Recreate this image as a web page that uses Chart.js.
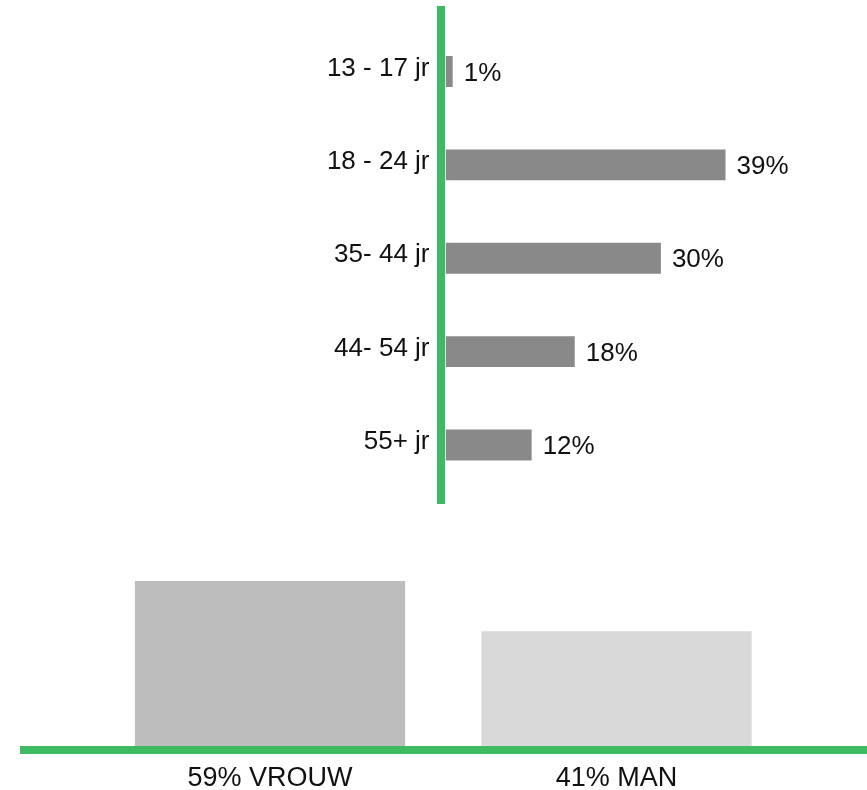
<!DOCTYPE html>
<html>
<head>
<meta charset="utf-8">
<script src="https://cdn.jsdelivr.net/npm/chart.js@4.4.1/dist/chart.umd.min.js"></script>
<style>
  html, body { margin: 0; padding: 0; background: #fff; }
  #wrap { position: relative; width: 867px; height: 790px; overflow: hidden; }
  #ageChart { position: absolute; left: 0; top: 0; }
  #genderChart { position: absolute; left: 0; top: 520px; }
</style>
</head>
<body>
<div id="wrap">
  <canvas id="ageChart" width="867" height="520"></canvas>
  <canvas id="genderChart" width="867" height="270"></canvas>
</div>
<script>
var ageGroups = ['13 - 17 jr', '18 - 24 jr', '35- 44 jr', '44- 54 jr', '55+ jr'];
var ageShares = [1, 39, 30, 18, 12];

var genderNames = ['VROUW', 'MAN'];
var genderShares = [59, 41];

var green = '#3dba62';
var fontFam = '"Liberation Sans", Arial, sans-serif';

// vertical green axis + category names + value labels for the age chart
var agePainter = {
  id: 'agePainter',
  afterDatasetsDraw: function(chart){
    var ctx = chart.ctx;
    var xs = chart.scales.x, ys = chart.scales.y;
    var x0 = xs.getPixelForValue(0);

    ctx.save();
    ctx.fillStyle = green;
    ctx.fillRect(x0 - 8.5, 6, 8, 498);

    ctx.font = '26px ' + fontFam;
    ctx.fillStyle = '#111';
    ctx.textBaseline = 'middle';
    for(var i = 0; i < ageGroups.length; i++){
      var y = ys.getPixelForValue(i);
      ctx.textAlign = 'right';
      ctx.fillText(ageGroups[i], x0 - 16, y - 3);
      ctx.textAlign = 'left';
      ctx.fillText(ageShares[i] + '%', xs.getPixelForValue(ageShares[i]) + 11, y + 2);
    }
    ctx.restore();
  }
};

// horizontal green baseline + labels under the gender bars
var genderPainter = {
  id: 'genderPainter',
  afterDatasetsDraw: function(chart){
    var ctx = chart.ctx;
    var xs = chart.scales.x, ys = chart.scales.y;
    var yBase = ys.getPixelForValue(0);

    ctx.save();
    ctx.fillStyle = green;
    ctx.fillRect(20, yBase, chart.width - 20, 8);

    ctx.font = '27px ' + fontFam;
    ctx.fillStyle = '#111';
    ctx.textAlign = 'center';
    ctx.textBaseline = 'middle';
    for(var i = 0; i < genderNames.length; i++){
      ctx.fillText(genderShares[i] + '% ' + genderNames[i], xs.getPixelForValue(i), yBase + 33);
    }
    ctx.restore();
  }
};

var hiddenAxis = { display: false, grid: { display: false } };

new Chart(document.getElementById('ageChart').getContext('2d'), {
  type: 'bar',
  data: {
    labels: ageGroups,
    datasets: [{
      data: ageShares,
      backgroundColor: '#898989',
      borderWidth: 0,
      categoryPercentage: 1,
      barPercentage: 0.33
    }]
  },
  options: {
    indexAxis: 'y',
    responsive: false,
    animation: false,
    devicePixelRatio: 1,
    layout: { padding: { left: 445.5, right: 62.5, top: 24.8, bottom: 28.3 } },
    scales: {
      x: Object.assign({ min: 0, max: 50 }, hiddenAxis),
      y: hiddenAxis
    },
    plugins: { legend: { display: false }, tooltip: { enabled: false } }
  },
  plugins: [agePainter]
});

new Chart(document.getElementById('genderChart').getContext('2d'), {
  type: 'bar',
  data: {
    labels: genderNames,
    datasets: [{
      data: genderShares,
      backgroundColor: ['#bdbdbd', '#d9d9d9'],
      borderWidth: 0,
      categoryPercentage: 1,
      barPercentage: 0.78
    }]
  },
  options: {
    responsive: false,
    animation: false,
    devicePixelRatio: 1,
    layout: { padding: { left: 96.75, right: 77.25, top: 58.2, bottom: 44 } },
    scales: {
      x: hiddenAxis,
      y: Object.assign({ min: 0, max: 60 }, hiddenAxis)
    },
    plugins: { legend: { display: false }, tooltip: { enabled: false } }
  },
  plugins: [genderPainter]
});
</script>
</body>
</html>
